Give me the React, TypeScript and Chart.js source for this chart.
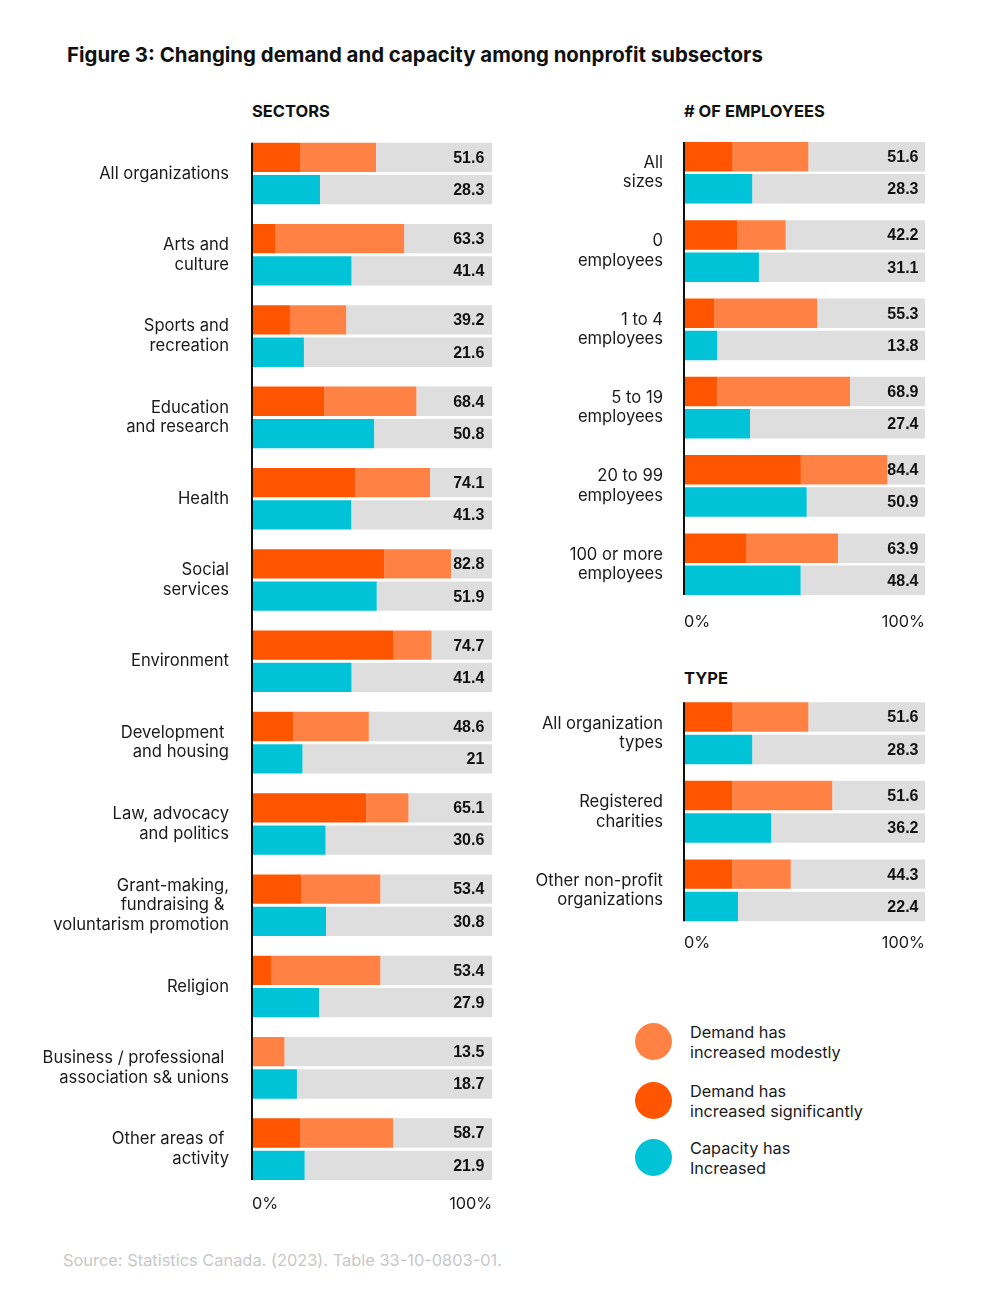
import React, { useEffect, useRef } from "react";
import { Chart, registerables } from "chart.js";

Chart.register(...registerables);

// ---------- DATA ----------
const sectorCategories: string[][] = [
  ["All organizations"],
  ["Arts and", "culture"],
  ["Sports and", "recreation"],
  ["Education", "and research"],
  ["Health"],
  ["Social", "services"],
  ["Environment"],
  ["Development ", "and housing"],
  ["Law, advocacy", "and politics"],
  ["Grant-making,", "fundraising & ", "voluntarism promotion"],
  ["Religion"],
  ["Business / professional ", "association s& unions"],
  ["Other areas of ", "activity"],
];
const sectorSignificant = [20.0, 9.6, 15.8, 30.0, 42.9, 55.0, 58.7, 17.2, 47.5, 20.6, 7.9, 0, 20.0];
const sectorModest = [31.6, 53.7, 23.4, 38.4, 31.2, 27.8, 16.0, 31.4, 17.6, 32.8, 45.5, 13.5, 38.7];
const sectorDemandLabels = ["51.6", "63.3", "39.2", "68.4", "74.1", "82.8", "74.7", "48.6", "65.1", "53.4", "53.4", "13.5", "58.7"];
const sectorCapacity = [28.3, 41.4, 21.6, 50.8, 41.3, 51.9, 41.4, 21, 30.6, 30.8, 27.9, 18.7, 21.9];

const employeeCategories: string[][] = [
  ["All", "sizes"],
  ["0", "employees"],
  ["1 to 4", "employees"],
  ["5 to 19", "employees"],
  ["20 to 99", "employees"],
  ["100 or more", "employees"],
];
const employeeSignificant = [20.2, 22.2, 12.5, 13.8, 48.5, 26.0];
const employeeModest = [31.4, 20.0, 42.8, 55.1, 35.9, 37.9];
const employeeDemandLabels = ["51.6", "42.2", "55.3", "68.9", "84.4", "63.9"];
const employeeCapacity = [28.3, 31.1, 13.8, 27.4, 50.9, 48.4];

const typeCategories: string[][] = [
  ["All organization", "types"],
  ["Registered", "charities"],
  ["Other non-profit", "organizations"],
];
const typeSignificant = [20.2, 20.0, 20.0];
const typeModest = [31.4, 41.5, 24.3];
const typeDemandLabels = ["51.6", "51.6", "44.3"];
const typeCapacity = [28.3, 36.2, 22.4];

const xTickValues = [0, 100];

// ---------- STYLE ----------
const COLORS = {
  significant: "#ff5500",
  modest: "#ff8244",
  capacity: "#00c3d7",
  rest: "#dedede",
  text: "#1a1a1a",
};
const FONT = "Inter, 'Noto Sans', sans-serif";

type Area = { left: number; right: number; top: number; bottom: number };
type PanelProps = {
  categories: string[][];
  significant: number[];
  modest: number[];
  capacity: number[];
  demandLabels: string[];
  area: Area;
  canvasLeft: number;
  canvasWidth: number;
  tickPadding: number;
  xTickPadding: number;
  categoryPercentage: number;
  barPercentage: number;
  labelInset: number;
};

function Panel(p: PanelProps) {
  const ref = useRef<HTMLCanvasElement>(null);
  const canvasTop = Math.floor(p.area.top) - 50;
  const canvasHeight = Math.ceil(p.area.bottom + 45 - canvasTop);
  const padTop = p.area.top - canvasTop;
  const xAxisHeight = canvasTop + canvasHeight - p.area.bottom;
  const padRight = p.canvasLeft + p.canvasWidth - p.area.right;
  const yAxisWidth = p.area.left - p.canvasLeft;

  useEffect(() => {
    if (!ref.current) return;
    const demandRest = p.significant.map((s, i) => 100 - s - p.modest[i]);
    const capRest = p.capacity.map((c) => 100 - c);
    const common = {
      categoryPercentage: p.categoryPercentage,
      barPercentage: p.barPercentage,
      borderWidth: 0,
    };
    const valueLabels = {
      id: "valueLabels",
      afterDatasetsDraw(chart: any) {
        const ctx = chart.ctx as CanvasRenderingContext2D;
        const x = chart.scales.x.getPixelForValue(100) - p.labelInset;
        const dMeta = chart.getDatasetMeta(0);
        const cMeta = chart.getDatasetMeta(3);
        ctx.save();
        ctx.font = "bold 16px 'Liberation Sans', Arial, sans-serif";
        ctx.fillStyle = "#111";
        ctx.textAlign = "right";
        ctx.textBaseline = "middle";
        p.demandLabels.forEach((t, i) => ctx.fillText(t, x, dMeta.data[i].y + 1));
        p.capacity.forEach((v, i) => ctx.fillText(String(v), x, cMeta.data[i].y + 1));
        const first: any = dMeta.data[0];
        const last: any = cMeta.data[cMeta.data.length - 1];
        const ax = chart.chartArea.left;
        ctx.strokeStyle = "#111";
        ctx.lineWidth = 2;
        ctx.beginPath();
        ctx.moveTo(ax, first.y - first.height / 2);
        ctx.lineTo(ax, last.y + last.height / 2);
        ctx.stroke();
        ctx.restore();
      },
    };
    const chart = new Chart(ref.current, {
      type: "bar",
      data: {
        labels: p.categories,
        datasets: [
          { label: "Demand has increased significantly", data: p.significant, backgroundColor: COLORS.significant, stack: "demand", ...common },
          { label: "Demand has increased modestly", data: p.modest, backgroundColor: COLORS.modest, stack: "demand", ...common },
          { label: "rest", data: demandRest, backgroundColor: COLORS.rest, stack: "demand", ...common },
          { label: "Capacity has Increased", data: p.capacity, backgroundColor: COLORS.capacity, stack: "capacity", ...common },
          { label: "rest", data: capRest, backgroundColor: COLORS.rest, stack: "capacity", ...common },
        ],
      },
      options: {
        indexAxis: "y",
        responsive: true,
        maintainAspectRatio: false,
        animation: false,
        events: [],
        layout: { padding: { top: padTop, right: padRight, left: 0, bottom: 0 } },
        plugins: { legend: { display: false }, tooltip: { enabled: false } },
        scales: {
          x: {
            stacked: true,
            min: 0,
            max: 100,
            grid: { display: false, drawTicks: false },
            border: { display: false },
            afterBuildTicks: (s: any) => {
              s.ticks = xTickValues.map((v) => ({ value: v }));
            },
            ticks: {
              align: "inner",
              padding: p.xTickPadding,
              color: COLORS.text,
              font: { family: FONT, size: 16.3, lineHeight: 1.2 },
              callback: (v: any) => v + "%",
            },
            afterFit: (s: any) => {
              s.height = xAxisHeight;
            },
          } as any,
          y: {
            grid: { display: false, drawTicks: false },
            border: { display: false },
            ticks: {
              autoSkip: false,
              padding: p.tickPadding,
              color: COLORS.text,
              font: { family: FONT, size: 16.6, lineHeight: 1.17 },
            },
            afterFit: (s: any) => {
              s.width = yAxisWidth;
            },
          } as any,
        },
      },
      plugins: [valueLabels],
    });
    return () => chart.destroy();
  }, []);

  return (
    <div style={{ position: "absolute", left: p.canvasLeft, top: canvasTop, width: p.canvasWidth, height: canvasHeight }}>
      <canvas ref={ref} />
    </div>
  );
}

const legendItems = [
  { color: COLORS.modest, lines: ["Demand has", "increased modestly"], cy: 1041.3 },
  { color: COLORS.significant, lines: ["Demand has", "increased significantly"], cy: 1100.3 },
  { color: COLORS.capacity, lines: ["Capacity has", "Increased"], cy: 1157.3 },
];

export default function App() {
  const heading = { position: "absolute" as const, fontFamily: FONT, fontWeight: 700, fontSize: 16.5, lineHeight: "20px", color: "#111", whiteSpace: "nowrap" as const };
  return (
    <div style={{ position: "absolute", left: 0, top: 0, width: 1000, height: 1313, background: "#fff", overflow: "hidden" }}>
      <div style={{ position: "absolute", left: 67, top: 43.3, fontFamily: FONT, fontWeight: 700, fontSize: 20.4, lineHeight: "24px", color: "#111", whiteSpace: "nowrap" }}>
        Figure 3: Changing demand and capacity among nonprofit subsectors
      </div>
      <div style={{ ...heading, left: 252, top: 100.5 }}>SECTORS</div>
      <div style={{ ...heading, left: 684, top: 100.5 }}># OF EMPLOYEES</div>
      <div style={{ ...heading, left: 684, top: 667.5 }}>TYPE</div>

      <Panel
        categories={sectorCategories}
        significant={sectorSignificant}
        modest={sectorModest}
        capacity={sectorCapacity}
        demandLabels={sectorDemandLabels}
        area={{ left: 252, right: 492.3, top: 132.85, bottom: 1189.8 }}
        canvasLeft={0}
        canvasWidth={500}
        tickPadding={23}
        xTickPadding={4.6}
        categoryPercentage={0.7946}
        barPercentage={0.907}
        labelInset={8}
      />
      <Panel
        categories={employeeCategories}
        significant={employeeSignificant}
        modest={employeeModest}
        capacity={employeeCapacity}
        demandLabels={employeeDemandLabels}
        area={{ left: 684, right: 925, top: 133.6, bottom: 603.4 }}
        canvasLeft={500}
        canvasWidth={500}
        tickPadding={21}
        xTickPadding={8.7}
        categoryPercentage={0.8225}
        barPercentage={0.916}
        labelInset={6.5}
      />
      <Panel
        categories={typeCategories}
        significant={typeSignificant}
        modest={typeModest}
        capacity={typeCapacity}
        demandLabels={typeDemandLabels}
        area={{ left: 684, right: 925, top: 694, bottom: 929.6 }}
        canvasLeft={500}
        canvasWidth={500}
        tickPadding={21}
        xTickPadding={3.8}
        categoryPercentage={0.8265}
        barPercentage={0.907}
        labelInset={6.5}
      />

      {legendItems.map((it, i) => (
        <React.Fragment key={i}>
          <div style={{ position: "absolute", left: 653.3 - 18.5, top: it.cy - 18.5, width: 37, height: 37, borderRadius: "50%", background: it.color }} />
          <div style={{ position: "absolute", left: 690, top: it.cy - 19.8, fontFamily: FONT, fontSize: 16.3, lineHeight: "20px", color: COLORS.text, whiteSpace: "nowrap" }}>
            {it.lines[0]}
            <br />
            {it.lines[1]}
          </div>
        </React.Fragment>
      ))}

      <div style={{ position: "absolute", left: 63, top: 1250.3, fontFamily: FONT, fontSize: 16.4, lineHeight: "20px", color: "#c8c8c8", whiteSpace: "nowrap" }}>
        Source: Statistics Canada. (2023). Table 33-10-0803-01.
      </div>
    </div>
  );
}
